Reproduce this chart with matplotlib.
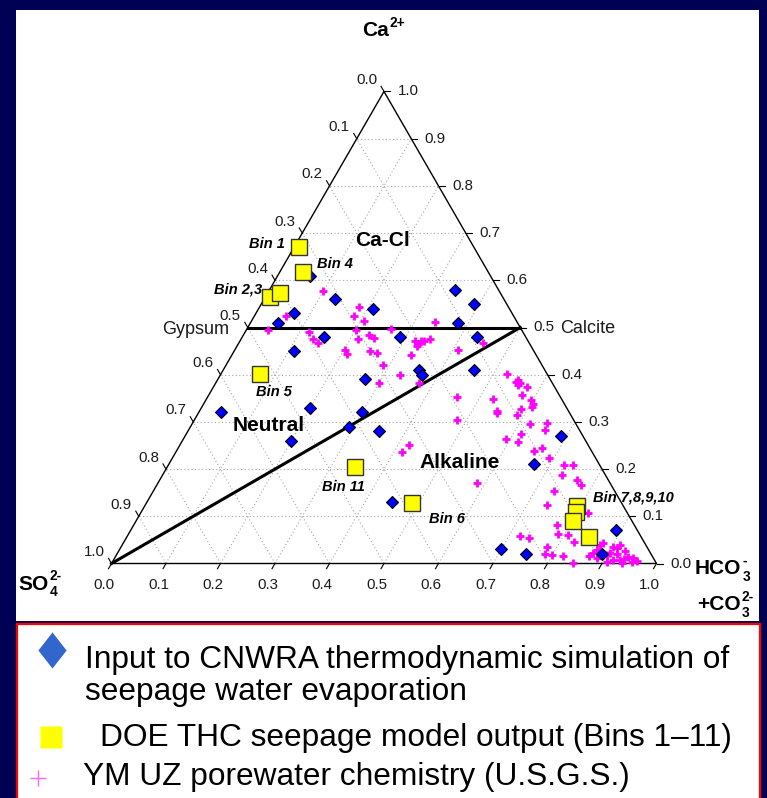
import numpy as np
import matplotlib
matplotlib.use("Agg")
import matplotlib.pyplot as plt
from matplotlib.patches import Rectangle
from matplotlib.lines import Line2D

plt.rcParams["font.family"] = ["Liberation Sans", "DejaVu Sans"]

# mole fractions: Ca and HCO3+CO3 (SO4 is the remainder)
cnwra_ca = [0.61, 0.56, 0.53, 0.51, 0.54, 0.48, 0.48, 0.45, 0.58, 0.55,
            0.51, 0.48, 0.41, 0.40, 0.41, 0.32, 0.33, 0.26, 0.39, 0.32,
            0.29, 0.28, 0.13, 0.21, 0.03, 0.02, 0.27, 0.07, 0.02]
cnwra_hco3 = [0.06, 0.13, 0.07, 0.05, 0.21, 0.15, 0.29, 0.11, 0.34, 0.39,
              0.38, 0.43, 0.36, 0.37, 0.46, 0.04, 0.20, 0.20, 0.27, 0.30,
              0.29, 0.35, 0.45, 0.67, 0.70, 0.75, 0.69, 0.89, 0.89]

bin_names = ["Bin 1", "Bin 2", "Bin 3", "Bin 4", "Bin 5", "Bin 6",
             "Bin 7", "Bin 8", "Bin 9", "Bin 10", "Bin 11"]
bin_ca = [0.670, 0.565, 0.574, 0.617, 0.402, 0.128, 0.122, 0.109, 0.091, 0.057, 0.204]
bin_hco3 = [0.009, 0.008, 0.022, 0.042, 0.072, 0.487, 0.793, 0.797, 0.801, 0.848, 0.344]

usgs_ca = [0.577, 0.543, 0.525, 0.514, 0.525, 0.494, 0.490, 0.475, 0.467, 0.494,
           0.476, 0.485, 0.478, 0.497, 0.452, 0.443, 0.450, 0.446, 0.421, 0.383,
           0.399, 0.382, 0.442, 0.512, 0.468, 0.453, 0.471, 0.466, 0.472, 0.471,
           0.475, 0.460, 0.353, 0.303, 0.251, 0.236, 0.171, 0.349, 0.402, 0.385,
           0.389, 0.382, 0.379, 0.373, 0.358, 0.346, 0.338, 0.332, 0.323, 0.318,
           0.315, 0.327, 0.296, 0.297, 0.283, 0.264, 0.258, 0.275, 0.239, 0.244,
           0.224, 0.208, 0.209, 0.188, 0.177, 0.167, 0.154, 0.124, 0.107, 0.082,
           0.062, 0.060, 0.046, 0.058, 0.055, 0.035, 0.021, 0.017, 0.016, 0.002,
           0.015, 0.048, 0.039, 0.029, 0.043, 0.036, 0.039, 0.027, 0.023, 0.020,
           0.014, 0.011, 0.006, 0.007, 0.004, 0.011, 0.022, 0.007, 0.004, 0.002,
           0.032, 0.009, 0.018]
usgs_hco3 = [0.100, 0.182, 0.183, 0.206, 0.057, 0.041, 0.117, 0.132, 0.145, 0.202,
             0.215, 0.230, 0.242, 0.264, 0.203, 0.211, 0.250, 0.264, 0.288, 0.300,
             0.330, 0.374, 0.328, 0.338, 0.447, 0.410, 0.322, 0.330, 0.331, 0.338,
             0.346, 0.331, 0.457, 0.482, 0.420, 0.415, 0.585, 0.526, 0.524, 0.550,
             0.552, 0.559, 0.556, 0.575, 0.575, 0.596, 0.604, 0.605, 0.546, 0.548,
             0.586, 0.587, 0.620, 0.650, 0.653, 0.591, 0.617, 0.614, 0.656, 0.668,
             0.690, 0.727, 0.742, 0.733, 0.765, 0.778, 0.735, 0.737, 0.820, 0.776,
             0.789, 0.808, 0.826, 0.720, 0.739, 0.782, 0.784, 0.800, 0.820, 0.845,
             0.868, 0.860, 0.877, 0.876, 0.881, 0.903, 0.913, 0.929, 0.903, 0.917,
             0.941, 0.952, 0.961, 0.917, 0.907, 0.885, 0.873, 0.929, 0.953, 0.936,
             0.911, 0.935, 0.901]

tick_vals = [0.0, 0.1, 0.2, 0.3, 0.4, 0.5, 0.6, 0.7, 0.8, 0.9, 1.0]

H = np.sqrt(3) / 2
W, HT = 767, 798


def tern(ca, hco3):
    ca = np.asarray(ca, dtype=float)
    hco3 = np.asarray(hco3, dtype=float)
    return hco3 + ca / 2, ca * H


def fx(px):
    return px / W


def fy(py):
    return 1 - py / HT


fig = plt.figure(figsize=(W / 100, HT / 100), dpi=100)
fig.patch.set_facecolor("#000055")
renderer = fig.canvas.get_renderer()

# white slide panel and the red-framed key box
fig.add_artist(Rectangle((fx(16), fy(621)), fx(743), 611 / HT, transform=fig.transFigure,
                         facecolor="white", edgecolor="none", zorder=-2))
fig.add_artist(Rectangle((fx(16.5), fy(810)), fx(743.5), 186 / HT, transform=fig.transFigure,
                         facecolor="white", edgecolor="#FF0000", lw=1.6, zorder=-1))

ax = fig.add_axes([fx(111.5), fy(563.5), fx(545), 472 / HT])
ax.set_xlim(0, 1)
ax.set_ylim(0, H)
ax.axis("off")

# dotted grid
grid_kw = dict(color="#a8a8a8", lw=0.8, ls=(0, (1, 2.2)), zorder=1)
for v in tick_vals[1:-1]:
    ax.plot(*tern([v, v], [0, 1 - v]), **grid_kw)
    ax.plot(*tern([0, 1 - v], [v, v]), **grid_kw)
    ax.plot(*tern([0, 1 - v], [1 - v, 0]), **grid_kw)

# triangle frame
ax.plot(*tern([0, 0, 1, 0], [0, 1, 0, 0]), color="black", lw=1.0, zorder=2, clip_on=False)

# gypsum and calcite divides
ax.plot(*tern([0.5, 0.5], [0, 0.5]), color="black", lw=2.2, zorder=2)
ax.plot(*tern([0, 0.5], [0, 0.5]), color="black", lw=2.2, zorder=2, clip_on=False)

# ticks and tick labels
L = 6 / 545
lab_kw = dict(textcoords="offset pixels", fontsize=10.8, color="#1a1a1a", annotation_clip=False)
for v in tick_vals:
    # bottom: HCO3
    x0, y0 = tern(0, v)
    ax.plot([x0, x0 - 0.5 * L], [y0, y0 - H * L], color="black", lw=0.8, clip_on=False)
    ax.annotate(f"{v:.1f}", (x0, y0), xytext=(-7.5, -21.5), ha="center", va="center", **lab_kw)
    # left: SO4
    x0, y0 = tern(1 - v, 0)
    ax.plot([x0, x0 - 0.5 * L], [y0, y0 + H * L], color="black", lw=0.8, clip_on=False)
    ax.annotate(f"{v:.1f}", (x0, y0), xytext=(-17.5, 11.5), ha="center", va="center", **lab_kw)
    # right: Ca
    x0, y0 = tern(v, 1 - v)
    ax.plot([x0, x0 + L], [y0, y0], color="black", lw=0.8, clip_on=False)
    ax.annotate(f"{v:.1f}", (x0, y0), xytext=(13.5, 0), ha="left", va="center", **lab_kw)

min_kw = dict(textcoords="offset pixels", fontsize=13, color="#1a1a1a", va="center",
              annotation_clip=False)
ax.annotate("Gypsum", tern(0.5, 0), xytext=(-19, -2.5), ha="right", **min_kw)
ax.annotate("Calcite", tern(0.5, 0.5), xytext=(39.5, -1), ha="left", **min_kw)

# data
ax.plot(*tern(usgs_ca, usgs_hco3), "+", ms=5.3, mew=2.0, color="#FF00FF", zorder=3, clip_on=False)
ax.plot(*tern(cnwra_ca, cnwra_hco3), "D", ms=6.0, mfc="#0000FF", mec="black", mew=0.8, zorder=4)
ax.plot(*tern(bin_ca, bin_hco3), "s", ms=12, mfc="#FFFF00", mec="#333333", mew=1.0, zorder=5)

# bin labels
bin_lab = {"Bin 1": ("Bin 1", (-14, 3), "right"),
           "Bin 2": ("Bin 2,3", (-8, 7.5), "right"),
           "Bin 4": ("Bin 4", (14, 8), "left"),
           "Bin 5": ("Bin 5", (14, -18), "center"),
           "Bin 6": ("Bin 6", (35.5, -16), "center"),
           "Bin 7": ("Bin 7,8,9,10", (16, 8), "left"),
           "Bin 11": ("Bin 11", (-11.5, -19.5), "center")}
for name, ca, hc in zip(bin_names, bin_ca, bin_hco3):
    if name in bin_lab:
        s, off, ha = bin_lab[name]
        ax.annotate(s, tern(ca, hc), xytext=off, textcoords="offset pixels", ha=ha, va="center",
                    fontsize=10.5, fontweight="bold", fontstyle="italic", zorder=6)

# field names
reg_kw = dict(fontsize=15, fontweight="bold", ha="center", va="center")
fig.text(fx(383), fy(240), "Ca-Cl", **reg_kw)
fig.text(fx(269), fy(425), "Neutral", **reg_kw)
fig.text(fx(460), fy(462), "Alkaline", **reg_kw)


def chem_label(px, py, base, sub=None, sup=None, size=15):
    t = fig.text(fx(px), fy(py), base, fontsize=size, fontweight="bold", ha="left", va="center")
    x1 = t.get_window_extent(renderer).x1 + 1
    yc = HT - py
    small = dict(fontsize=size * 0.66, fontweight="bold", ha="left", va="center")
    if sup:
        fig.text(x1 / W, (yc + 8) / HT, sup, **small)
    if sub:
        fig.text(x1 / W, (yc - 8) / HT, sub, **small)


# apex labels
chem_label(362, 31, "Ca", sup="2+")
chem_label(18, 584, "SO", sub="4", sup="2-")
chem_label(695, 569, "HCO", sub="3", sup="-")
chem_label(697, 605, "+CO", sub="3", sup="2-")

# key
diamond = [(0, 1), (0.78, 0), (0, -1), (-0.78, 0), (0, 1)]
fig.add_artist(Line2D([fx(52)], [fy(650)], marker=diamond, ms=26, mfc="#3366CC", mec="none",
                      ls="none", transform=fig.transFigure))
fig.add_artist(Line2D([fx(51)], [fy(737)], marker="s", ms=16, mfc="#FFFF00", mec="none",
                      ls="none", transform=fig.transFigure))
fig.add_artist(Line2D([fx(38)], [fy(778)], marker="+", ms=11, mew=1.0, color="#FF66FF",
                      ls="none", transform=fig.transFigure))
key_kw = dict(fontsize=22.8, ha="left", va="center", color="black")
fig.text(fx(85), fy(660), "Input to CNWRA thermodynamic simulation of", **key_kw)
fig.text(fx(85), fy(692), "seepage water evaporation", **key_kw)
fig.text(fx(100), fy(738), "DOE THC seepage model output (Bins 1\u201311)", **key_kw)
fig.text(fx(83), fy(777), "YM UZ porewater chemistry (U.S.G.S.)", **key_kw)

fig.savefig("out.png", dpi=100, facecolor=fig.get_facecolor())
